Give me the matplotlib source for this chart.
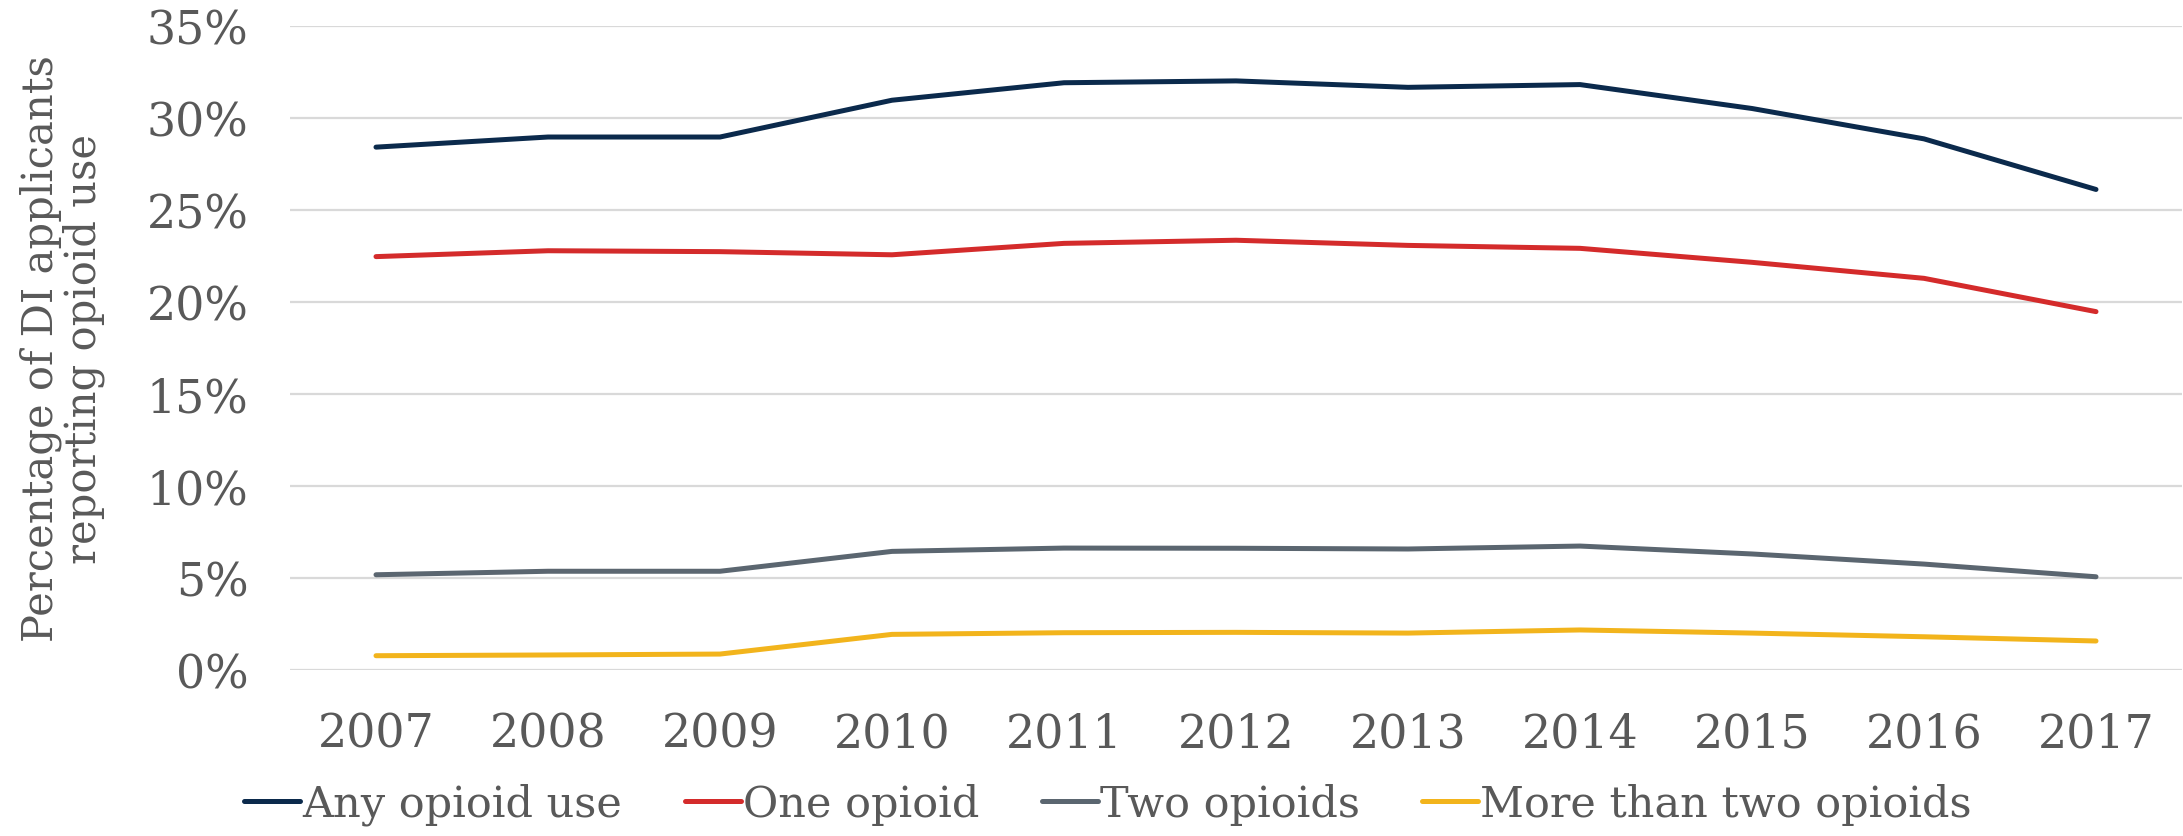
import matplotlib
matplotlib.use("Agg")
import matplotlib.pyplot as plt
from matplotlib.ticker import FuncFormatter
from matplotlib.lines import Line2D

years = ["2007", "2008", "2009", "2010", "2011", "2012", "2013", "2014", "2015", "2016", "2017"]
any_use = [28.4, 28.95, 28.95, 30.95, 31.9, 32.0, 31.65, 31.8, 30.5, 28.85, 26.1]
one_opioid = [22.45, 22.77, 22.72, 22.55, 23.17, 23.34, 23.06, 22.9, 22.14, 21.27, 19.46]
two_opioids = [5.16, 5.35, 5.35, 6.43, 6.61, 6.6, 6.56, 6.72, 6.29, 5.74, 5.05]
more_than_two = [0.76, 0.8, 0.85, 1.92, 2.01, 2.03, 1.99, 2.16, 1.99, 1.79, 1.56]
labels = ["Any opioid use", "One opioid", "Two opioids", "More than two opioids"]
colors = ["#0B2A4C", "#D42B2B", "#5B6670", "#F2B41C"]
yticks = [0, 5, 10, 15, 20, 25, 30, 35]

plt.rcParams['font.family'] = ['DejaVu Serif']
text_color = "#595959"

fig = plt.figure(figsize=(21.83, 8.37), dpi=100)
ax = fig.add_axes([290/2183, 1-670.7/837, (2182-290)/2183, (670.7-26.7)/837])

x = list(range(len(years)))
for series, lab, col in zip([any_use, one_opioid, two_opioids, more_than_two], labels, colors):
    ax.plot(x, series, color=col, lw=3.6, label=lab, solid_capstyle='round', solid_joinstyle='round', zorder=3)

ax.set_xlim(-0.5, len(years) - 0.5)
ax.set_ylim(0, 35)
ax.set_yticks(yticks)
ax.yaxis.set_major_formatter(FuncFormatter(lambda v, p: f"{v:.0f}%"))
ax.set_xticks(x)
ax.set_xticklabels(years)
ax.grid(axis='y', color="#D9D9D9", lw=1.6, zorder=0)
ax.grid(axis='x', visible=False)
for s in ax.spines.values():
    s.set_visible(False)
ax.tick_params(axis='both', length=0, labelsize=33, labelcolor=text_color)
ax.tick_params(axis='y', pad=30)
ax.tick_params(axis='x', pad=30)

ax.set_ylabel("Percentage of DI applicants\nreporting opioid use", fontsize=30, color=text_color, linespacing=1.02, labelpad=30)

handles = [Line2D([0], [0], color=c, lw=3.6, solid_capstyle='round') for c in colors]
fig.legend(handles, labels, loc='center', bbox_to_anchor=(1108/2183, 1-805/837), ncol=4, frameon=False,
           fontsize=31, labelcolor=text_color, handlelength=1.3, handletextpad=0.05, columnspacing=1.45)

fig.savefig("out.png", dpi=100, facecolor="white")
